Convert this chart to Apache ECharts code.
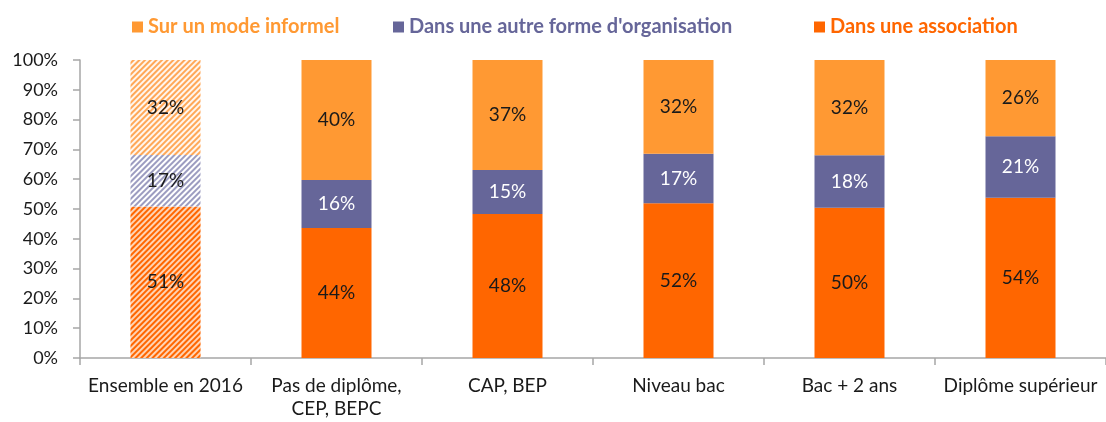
<!DOCTYPE html>
<html>
<head>
<meta charset="utf-8">
<script src="https://cdn.jsdelivr.net/npm/echarts@6/dist/echarts.min.js"></script>
<style>
  html, body { margin: 0; padding: 0; background: #fff; }
  #chart { width: 1106px; height: 422px; }
</style>
</head>
<body>
<div id="chart"></div>
<script>
const categories = ['Ensemble en 2016', 'Pas de diplôme,\nCEP, BEPC', 'CAP, BEP', 'Niveau bac', 'Bac + 2 ans', 'Diplôme supérieur']
// shares in % (labels show rounded values)
const association = [50.8, 43.6, 48.3, 51.9, 50.4, 53.8]
const autreForme = [17.3, 16.1, 14.8, 16.6, 17.6, 20.6]
const informel = [31.9, 40.3, 36.9, 31.5, 32.0, 25.6]
const yTicks = [0, 10, 20, 30, 40, 50, 60, 70, 80, 90, 100]

const FONT = 'Lato'
const colors = { association: '#FF6600', autre: '#666699', informel: '#FF9933' }

// first bar (Ensemble en 2016) is hatched
function hatch(stripe, bg) {
  return {
    color: bg,
    decal: {
      symbol: 'rect',
      symbolSize: 1,
      dashArrayX: [1, 0],
      dashArrayY: [2, 2],
      rotation: -Math.PI / 4,
      color: stripe
    }
  }
}

function buildData(values, hatchStyle, labelColor) {
  return values.map((v, i) => {
    if (i === 0) {
      return { value: v, itemStyle: hatchStyle, label: { color: '#1a1a1a' } }
    }
    return { value: v, label: { color: labelColor } }
  })
}

// one legend per entry so each can sit where it does in the original
function legendAt(name, left, color) {
  return {
    top: 12,
    left,
    itemWidth: 11,
    itemHeight: 11,
    icon: 'rect',
    textStyle: { fontFamily: FONT, fontSize: 20, fontWeight: 'bold', color },
    data: [name]
  }
}

const label = {
  show: true,
  position: 'inside',
  fontFamily: FONT,
  fontSize: 19,
  formatter: p => Math.round(p.value) + '%'
}

const chart = echarts.init(document.getElementById('chart'))
chart.setOption({
  animation: false,
  backgroundColor: '#fff',
  legend: [
    legendAt('Sur un mode informel', 127, colors.informel),
    legendAt("Dans une autre forme d'organisation", 388, colors.autre),
    legendAt('Dans une association', 809, colors.association)
  ],
  grid: { left: 80, right: -3, top: 60, bottom: 64 },
  xAxis: {
    type: 'category',
    data: categories,
    axisLine: { lineStyle: { color: '#A6A6A6', width: 1.5 } },
    axisTick: { show: true, length: 7, lineStyle: { color: '#A6A6A6', width: 1.5 } },
    axisLabel: { margin: 16, color: '#1a1a1a', fontFamily: FONT, fontSize: 19, lineHeight: 23, interval: 0 }
  },
  yAxis: {
    type: 'value',
    min: yTicks[0],
    max: yTicks[yTicks.length - 1],
    interval: 10,
    axisLine: { show: true, lineStyle: { color: '#A6A6A6', width: 1.5 } },
    axisTick: { show: true, length: 7, lineStyle: { color: '#A6A6A6', width: 1.5 } },
    splitLine: { show: false },
    axisLabel: { margin: 22, color: '#1a1a1a', fontFamily: FONT, fontSize: 18, formatter: '{value}%' }
  },
  series: [
    {
      name: 'Dans une association',
      type: 'bar',
      stack: 'total',
      barWidth: 70,
      itemStyle: { color: colors.association },
      label,
      data: buildData(association, hatch('#FF6600', '#FFD3B3'), '#1a1a1a')
    },
    {
      name: "Dans une autre forme d'organisation",
      type: 'bar',
      stack: 'total',
      barWidth: 70,
      itemStyle: { color: colors.autre },
      label,
      data: buildData(autreForme, hatch('#9C9CC0', '#FFFFFF'), '#FFFFFF')
    },
    {
      name: 'Sur un mode informel',
      type: 'bar',
      stack: 'total',
      barWidth: 70,
      itemStyle: { color: colors.informel },
      label,
      data: buildData(informel, hatch('#FFA858', '#FFF6EE'), '#1a1a1a')
    }
  ]
})
</script>
</body>
</html>
